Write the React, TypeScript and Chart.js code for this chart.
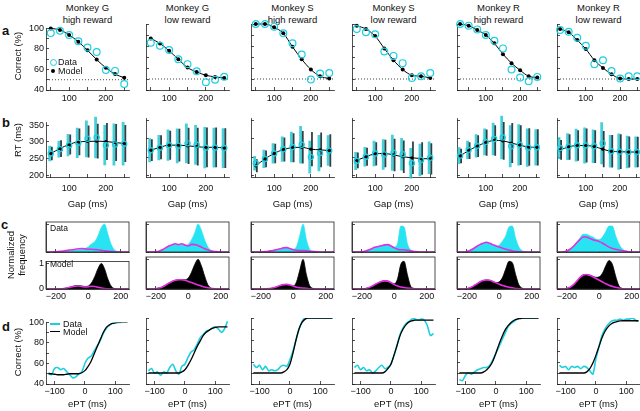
import React, { useEffect, useRef } from "react";
import { Chart, registerables } from "chart.js";

Chart.register(...registerables);

// ---------------- data ----------------
const MONKEYS = ["Monkey G", "Monkey G", "Monkey S", "Monkey S", "Monkey R", "Monkey R"];
const REWARDS = ["high reward", "low reward", "high reward", "low reward", "high reward", "low reward"];

const GAP_GS = [50, 75, 100, 125, 150, 175, 200, 225, 250];
const GAP_R = [25, 50, 75, 100, 125, 150, 175, 200, 225, 250];
const GAPS = [GAP_GS, GAP_GS, GAP_GS, GAP_GS, GAP_R, GAP_R];
const GAP_TICKS = [50, 100, 150, 200, 250];
const GAP_TICK_LABELS = [100, 200];
const ACC_TICKS = [40, 50, 60, 70, 80, 90, 100];
const ACC_TICK_LABELS = [40, 60, 80, 100];
const RT_TICKS = [200, 250, 300, 350];
const DIST_TICKS_X = [-200, 0, 200];
const DIST_TICKS_Y = [0, 1];
const EPT_TICKS = [-100, 0, 100];
const CHANCE = 50;

// a: percent correct vs gap
const ACC_DATA = [
  [95.4, 97.6, 93.6, 87.5, 81.4, 76.9, 59.5, 58.6, 45.8],
  [83, 80.2, 76.3, 68, 63.5, 57, 47, 49.3, 52],
  [100, 100, 97.6, 91.5, 82.4, 72.3, 49.5, 55, 55.5],
  [95.4, 92.4, 90.6, 75, 71, 64.4, 51, 52.5, 55.5],
  [100, 98.5, 95.1, 90, 84.8, 77.8, 58.6, 51.3, 48, 51.9],
  [94.5, 93, 87.5, 80.2, 63.5, 67.1, 57.3, 50.4, 52.5, 52.5],
];
const ACC_MODEL = [
  [100, 98.5, 93.6, 87, 78.7, 69.6, 61.6, 55.5, 51.9],
  [86.9, 82.3, 75.6, 68, 60.4, 56.4, 53.4, 51.9, 51],
  [100, 100, 97, 91.5, 79.3, 68, 58.6, 52.5, 50.4],
  [98.5, 95.4, 89, 77.8, 67.1, 58.6, 53.4, 52.5, 51],
  [100, 98.5, 94.5, 90, 82.4, 72.6, 64.4, 57.9, 52.5, 51.3],
  [95.4, 92.4, 85.4, 77.2, 67.1, 60.1, 54.3, 50.4, 50, 50],
];

// b: RT vs gap (mean and spread)
const RT_DATA = [
  [265, 278, 290, 297, 309, 313, 290, 292, 294],
  [269, 276, 283, 281, 288, 284, 276, 276, 275],
  [233, 245, 260, 272, 278, 284, 250, 261, 268],
  [239, 251, 260, 257, 262, 258, 233, 242, 248],
  [254, 270, 281, 292, 300, 304, 280, 284, 276, 277],
  [275, 279, 283, 282, 280, 288, 266, 265, 264, 264],
];
const RT_DATA_SD = [
  [23, 25, 33, 45, 55, 62, 60, 63, 65],
  [33, 35, 43, 48, 55, 55, 57, 55, 55],
  [20, 25, 28, 35, 42, 52, 45, 50, 42],
  [25, 27, 35, 42, 50, 45, 42, 45, 45],
  [23, 25, 32, 37, 45, 60, 58, 57, 53, 50],
  [30, 37, 45, 50, 46, 58, 45, 50, 45, 43],
];
const RT_MODEL = [
  [265, 280, 292, 300, 301, 302, 301, 298, 295],
  [269, 277, 283, 283, 281, 279, 277, 277, 275],
  [226, 245, 260, 271, 276, 277, 272, 270, 268],
  [241, 251, 259, 260, 256, 251, 248, 246, 245],
  [253, 268, 280, 290, 296, 295, 289, 283, 278, 277],
  [270, 278, 282, 282, 279, 272, 266, 265, 264, 264],
];
const RT_MODEL_SD = [
  [20, 25, 30, 40, 48, 52, 55, 55, 55],
  [30, 33, 40, 45, 50, 52, 55, 55, 55],
  [18, 23, 27, 33, 40, 45, 47, 48, 45],
  [22, 25, 32, 38, 45, 45, 45, 45, 43],
  [20, 23, 30, 36, 42, 52, 55, 55, 52, 50],
  [27, 35, 42, 47, 45, 50, 45, 48, 43, 42],
];

// c: ePT distributions
const DIST_EPT = [-260, -240, -220, -200, -180, -160, -140, -120, -100, -80, -60, -40, -20, 0, 20, 40, 60, 80, 100, 120, 140, 160, 180, 200, 220, 240, 260];
const DIST_DATA_CORRECT = [
  [0, 0, 0, 0, 0.01, 0.02, 0.03, 0.04, 0.05, 0.06, 0.08, 0.1, 0.13, 0.18, 0.3, 0.38, 0.6, 0.9, 1.02, 0.65, 0.28, 0.08, 0.02, 0, 0, 0, 0],
  [0, 0, 0, 0.01, 0.03, 0.08, 0.15, 0.22, 0.25, 0.28, 0.25, 0.27, 0.25, 0.28, 0.45, 0.7, 1.02, 0.8, 0.45, 0.18, 0.06, 0.02, 0, 0, 0, 0, 0],
  [0, 0, 0, 0, 0.01, 0.02, 0.04, 0.06, 0.08, 0.1, 0.12, 0.14, 0.13, 0.1, 0.2, 0.6, 1.02, 0.45, 0.1, 0.03, 0.01, 0, 0, 0, 0, 0, 0],
  [0, 0, 0, 0.01, 0.03, 0.07, 0.12, 0.16, 0.2, 0.22, 0.25, 0.26, 0.22, 0.18, 0.3, 0.95, 0.92, 0.3, 0.08, 0.02, 0, 0, 0, 0, 0, 0, 0],
  [0, 0, 0, 0.02, 0.06, 0.12, 0.2, 0.27, 0.32, 0.36, 0.32, 0.27, 0.22, 0.25, 0.4, 0.6, 0.92, 0.95, 0.5, 0.18, 0.05, 0.01, 0, 0, 0, 0, 0],
  [0, 0, 0.01, 0.04, 0.1, 0.2, 0.35, 0.5, 0.65, 0.65, 0.6, 0.55, 0.47, 0.45, 0.55, 0.75, 0.95, 0.95, 0.6, 0.3, 0.12, 0.04, 0.01, 0, 0, 0, 0],
];
const DIST_DATA_ERROR = [
  [0, 0, 0, 0.01, 0.02, 0.03, 0.05, 0.07, 0.08, 0.1, 0.12, 0.13, 0.12, 0.1, 0.1, 0.09, 0.08, 0.06, 0.04, 0.03, 0.02, 0.01, 0, 0, 0, 0, 0],
  [0, 0, 0, 0.01, 0.03, 0.08, 0.15, 0.22, 0.27, 0.3, 0.27, 0.3, 0.25, 0.22, 0.28, 0.27, 0.24, 0.18, 0.12, 0.08, 0.04, 0.02, 0.01, 0, 0, 0, 0],
  [0, 0, 0, 0, 0.01, 0.02, 0.04, 0.06, 0.09, 0.12, 0.15, 0.16, 0.12, 0.08, 0.06, 0.05, 0.05, 0.04, 0.03, 0.02, 0.01, 0, 0, 0, 0, 0, 0],
  [0, 0, 0, 0.01, 0.03, 0.07, 0.12, 0.17, 0.2, 0.23, 0.26, 0.27, 0.22, 0.15, 0.1, 0.08, 0.08, 0.06, 0.04, 0.02, 0.01, 0, 0, 0, 0, 0, 0],
  [0, 0, 0, 0.02, 0.06, 0.12, 0.2, 0.27, 0.32, 0.36, 0.32, 0.27, 0.22, 0.18, 0.14, 0.1, 0.07, 0.04, 0.02, 0.01, 0, 0, 0, 0, 0, 0, 0],
  [0, 0, 0.01, 0.04, 0.1, 0.2, 0.33, 0.45, 0.55, 0.55, 0.5, 0.45, 0.42, 0.38, 0.32, 0.25, 0.18, 0.13, 0.1, 0.07, 0.05, 0.03, 0.01, 0, 0, 0, 0],
];
const DIST_MODEL_CORRECT = [
  [0, 0, 0, 0, 0, 0.01, 0.03, 0.06, 0.1, 0.13, 0.14, 0.12, 0.1, 0.12, 0.25, 0.5, 0.82, 1.02, 0.8, 0.4, 0.12, 0.02, 0, 0, 0, 0, 0],
  [0, 0, 0, 0.01, 0.03, 0.07, 0.13, 0.2, 0.26, 0.3, 0.32, 0.32, 0.32, 0.38, 0.58, 0.85, 1.02, 0.8, 0.45, 0.15, 0.03, 0, 0, 0, 0, 0, 0],
  [0, 0, 0, 0, 0, 0.01, 0.02, 0.04, 0.08, 0.12, 0.15, 0.15, 0.12, 0.1, 0.25, 0.65, 1.02, 0.5, 0.12, 0.02, 0, 0, 0, 0, 0, 0, 0],
  [0, 0, 0, 0, 0.01, 0.04, 0.09, 0.15, 0.21, 0.26, 0.28, 0.27, 0.22, 0.18, 0.35, 0.85, 0.95, 0.5, 0.1, 0.02, 0, 0, 0, 0, 0, 0, 0],
  [0, 0, 0, 0.01, 0.04, 0.1, 0.17, 0.24, 0.29, 0.31, 0.3, 0.26, 0.22, 0.25, 0.4, 0.7, 0.95, 0.9, 0.5, 0.15, 0.03, 0, 0, 0, 0, 0, 0],
  [0, 0, 0, 0.02, 0.06, 0.14, 0.26, 0.39, 0.48, 0.5, 0.48, 0.44, 0.4, 0.42, 0.55, 0.8, 0.98, 0.85, 0.45, 0.12, 0.02, 0, 0, 0, 0, 0, 0],
];
const DIST_MODEL_ERROR = [
  [0, 0, 0, 0, 0, 0.01, 0.03, 0.06, 0.09, 0.11, 0.12, 0.1, 0.08, 0.09, 0.11, 0.1, 0.07, 0.04, 0.02, 0.01, 0, 0, 0, 0, 0, 0, 0],
  [0, 0, 0, 0.01, 0.03, 0.07, 0.13, 0.2, 0.26, 0.3, 0.32, 0.32, 0.3, 0.26, 0.22, 0.18, 0.14, 0.1, 0.07, 0.04, 0.02, 0.01, 0, 0, 0, 0, 0],
  [0, 0, 0, 0, 0, 0.01, 0.02, 0.04, 0.08, 0.12, 0.15, 0.16, 0.14, 0.1, 0.06, 0.04, 0.03, 0.02, 0.01, 0, 0, 0, 0, 0, 0, 0, 0],
  [0, 0, 0, 0, 0.01, 0.04, 0.09, 0.15, 0.21, 0.26, 0.28, 0.27, 0.22, 0.15, 0.1, 0.07, 0.05, 0.03, 0.02, 0.01, 0, 0, 0, 0, 0, 0, 0],
  [0, 0, 0, 0.01, 0.04, 0.1, 0.17, 0.24, 0.29, 0.31, 0.3, 0.26, 0.21, 0.16, 0.12, 0.09, 0.06, 0.04, 0.02, 0.01, 0, 0, 0, 0, 0, 0, 0],
  [0, 0, 0, 0.02, 0.06, 0.14, 0.26, 0.39, 0.48, 0.5, 0.47, 0.42, 0.36, 0.3, 0.24, 0.18, 0.13, 0.09, 0.06, 0.03, 0.01, 0, 0, 0, 0, 0, 0],
];

// d: percent correct vs ePT
const CURVE_EPT = [-120, -110, -100, -90, -80, -70, -60, -50, -40, -30, -20, -10, 0, 10, 20, 30, 40, 50, 60, 70, 80, 90, 100, 110, 120, 130, 140];
const CURVE_DATA = [
  [51, 49, 55, 56, 54, 55, 52, 49, 46, 47, 50, 52, 60, 65, 67, 72, 77, 82, 89, 94, 97, 99, 100, 100, 100, null, null],
  [52, 54, 50, 51, 48, 51, 50, 55, 58, 52, 49, 56, 58, 64, 69, 71, 76, 82, 85, 88, 89, 91, 92, 90, 87, 90, 97],
  [58, 55, 57, 53, 56, 52, 53, 52, 53, 56, 57, 56, 62, 70, 80, 90, 97, 100, 100, 100, 100, 100, 100, 100, 100, 100, 100],
  [55, 57, 53, 55, 52, 53, 50, 52, 55, 57, 54, 55, 58, 66, 75, 85, 91, 95, 97, 99, 99, 98, 99, 98, 93, 84, 86],
  [44, 43, 48, 50, 49, 51, 53, 54, 55, 55, 57, 62, 68, 74, 80, 86, 92, 95, 97, 99, 100, 100, 100, 100, 100, 100, 100],
  [57, 55, 56, 53, 56, 55, 56, 54, 56, 55, 52, 49, 63, 74, 84, 90, 94, 97, 98, 98, 99, 98, 99, 99, 100, 98, 97],
];
const CURVE_MODEL = [
  [50, 50, 49.5, 49, 49, 49, 49.5, 50, 50, 50, 50, 51, 53, 57, 62, 69, 76, 83, 90, 95, 97.5, 99, 99.5, 100, 100, 100, 100],
  [50, 50, 50, 50, 50, 50, 50, 50, 50, 50, 50, 51, 53, 57, 62, 68, 74, 79, 84, 87, 89, 90.5, 91.5, 92, 92, 92, 92],
  [50, 50, 50, 50, 50, 50, 50, 50, 50, 50, 51, 53, 58, 68, 80, 90, 96, 99, 100, 100, 100, 100, 100, 100, 100, 100, 100],
  [50, 50, 50, 50, 50, 50, 50, 50, 50, 50, 51, 54, 58, 66, 75, 84, 90, 94, 96.5, 97.5, 98, 98, 98, 98, 98, 98, 98],
  [50, 50, 50, 50, 50, 50, 50, 50, 51, 53, 56, 61, 68, 76, 83, 89, 93, 96, 98, 99, 99.5, 100, 100, 100, 100, 100, 100],
  [50, 50, 50, 50, 50, 50, 50, 50, 50, 51, 54, 59, 66, 74, 82, 88, 92, 94.5, 96, 96.8, 97.3, 97.5, 97.5, 97.5, 97.5, 97.5, 97.5],
];

// ---------------- style / layout ----------------
const FONT = "'Liberation Sans', Arial, Helvetica, sans-serif";
const CYAN = "#1ccfe0";
const CYAN_FILL = "#28e3f2";
const CYAN_BAR = "rgba(40,200,212,0.85)";
const DARK_BAR = "rgba(12,32,36,0.85)";
const MAGENTA = "#e52ee0";
const AX = "#222";

const COL_LEFT = [46, 146, 251, 352, 457, 557];
const PW = 83;
const ML = 32, MR = 6, MT = 6, MB = 22;
const TL = -3;

const ROW_A = { top: 24, h: 65.7 };
const ROW_B = { top: 117.8, h: 59.3 };
const ROW_C1 = { top: 221.7, h: 30 };
const ROW_C2 = { top: 257.3, h: 31.7 };
const ROW_D = { top: 317.7, h: 66.3 };

function fmt(v: number) {
  return v < 0 ? "\u2212" + Math.abs(v) : String(v);
}

function lin(axis: "x" | "y", min: number, max: number, ticks: number[], labels: number[] | null, pad = 5) {
  return {
    type: "linear",
    position: axis === "x" ? "bottom" : "left",
    min,
    max,
    afterBuildTicks: (s: any) => {
      s.ticks = ticks.map((v) => ({ value: v }));
    },
    afterFit: (s: any) => {
      if (axis === "x") s.height = MB;
      else s.width = ML;
    },
    ticks: {
      display: !!labels,
      autoSkip: false,
      maxRotation: 0,
      padding: pad,
      color: "#111",
      font: { family: FONT, size: 9 },
      callback: (v: any) => (labels && labels.includes(Number(v)) ? fmt(Number(v)) : ""),
    },
    grid: { display: true, drawOnChartArea: false, drawTicks: true, tickLength: TL, color: AX, lineWidth: 0.8 },
    border: { display: true, color: AX, width: 0.8 },
  };
}

function opts(xs: any, ys: any) {
  return {
    responsive: false,
    maintainAspectRatio: false,
    animation: false,
    events: [],
    layout: { padding: { left: 0, right: MR, top: MT, bottom: 0 } },
    plugins: { legend: { display: false }, tooltip: { enabled: false }, title: { display: false } },
    scales: { x: xs, y: ys },
  };
}

const boxPlugin = {
  id: "boxFrame",
  afterDraw(chart: any) {
    const { ctx, chartArea: a } = chart;
    ctx.save();
    ctx.strokeStyle = AX;
    ctx.lineWidth = 0.8;
    ctx.strokeRect(a.left, a.top, a.right - a.left, a.bottom - a.top);
    ctx.restore();
  },
};

function gapRange(i: number): [number, number] {
  return i >= 4 ? [16, 258] : [37, 263];
}

function pts(xs: number[], ys: (number | null)[]) {
  return xs.map((x, k) => ({ x, y: ys[k] }));
}

function errorBars(xs: number[], m: number[], sd: number[], off: number) {
  const out: any[] = [];
  xs.forEach((g, k) => {
    out.push({ x: g + off, y: m[k] - sd[k] }, { x: g + off, y: m[k] + sd[k] }, { x: g + off, y: null });
  });
  return out;
}

function configA(i: number) {
  const [x0, x1] = gapRange(i);
  const g = GAPS[i];
  return {
    type: "line",
    data: {
      datasets: [
        { data: pts(g, ACC_DATA[i]), showLine: false, pointRadius: 3.4, pointBorderWidth: 1.2, pointBorderColor: CYAN, pointBackgroundColor: "rgba(0,0,0,0)", clip: false },
        { data: pts(g, ACC_MODEL[i]), borderColor: "#000", borderWidth: 1, pointRadius: 2, pointBorderWidth: 0, pointBackgroundColor: "#000", cubicInterpolationMode: "monotone", clip: false },
        { data: [{ x: x0, y: CHANCE }, { x: x1, y: CHANCE }], borderColor: "#333", borderWidth: 0.9, borderDash: [1, 2], pointRadius: 0 },
      ],
    },
    options: opts(lin("x", x0, x1, GAP_TICKS, GAP_TICK_LABELS, 6), lin("y", 40, 100, ACC_TICKS, i === 0 ? ACC_TICK_LABELS : null)),
  };
}

function configB(i: number) {
  const [x0, x1] = gapRange(i);
  const g = GAPS[i];
  return {
    type: "line",
    data: {
      datasets: [
        { data: pts(g, RT_DATA[i]), showLine: false, pointRadius: 2.6, pointBorderWidth: 1.2, pointBorderColor: CYAN, pointBackgroundColor: "rgba(0,0,0,0)", clip: false },
        { data: pts(g, RT_MODEL[i]), borderColor: "#000", borderWidth: 1, pointRadius: 1.6, pointBorderWidth: 0, pointBackgroundColor: "#000", cubicInterpolationMode: "monotone", clip: false },
        { data: errorBars(g, RT_MODEL[i], RT_MODEL_SD[i], 3), borderColor: DARK_BAR, borderWidth: 1.8, pointRadius: 0, borderCapStyle: "butt", spanGaps: false, clip: false },
        { data: errorBars(g, RT_DATA[i], RT_DATA_SD[i], -3), borderColor: CYAN_BAR, borderWidth: 2.8, pointRadius: 0, borderCapStyle: "butt", spanGaps: false, clip: false },
      ],
    },
    options: opts(lin("x", x0, x1, GAP_TICKS, GAP_TICK_LABELS, 9), lin("y", 195, 358, RT_TICKS, i === 0 ? RT_TICKS : null)),
  };
}

function configC(i: number, model: boolean) {
  const correct = model ? DIST_MODEL_CORRECT[i] : DIST_DATA_CORRECT[i];
  const error = model ? DIST_MODEL_ERROR[i] : DIST_DATA_ERROR[i];
  const fillColor = model ? "#000" : CYAN_FILL;
  return {
    type: "line",
    data: {
      datasets: [
        { data: pts(DIST_EPT, error), borderColor: MAGENTA, borderWidth: 1.6, pointRadius: 0, cubicInterpolationMode: "monotone", fill: false },
        { data: pts(DIST_EPT, correct), borderColor: fillColor, backgroundColor: fillColor, borderWidth: 0.8, pointRadius: 0, cubicInterpolationMode: "monotone", fill: "origin" },
      ],
    },
    options: opts(
      lin("x", -260, 250, DIST_TICKS_X, model ? DIST_TICKS_X : null),
      lin("y", 0, 1.1, DIST_TICKS_Y, model && i === 0 ? DIST_TICKS_Y : null)
    ),
    plugins: [boxPlugin],
  };
}

function configD(i: number) {
  return {
    type: "line",
    data: {
      datasets: [
        { data: pts(CURVE_EPT, CURVE_MODEL[i]), borderColor: "#000", borderWidth: 1.3, pointRadius: 0, cubicInterpolationMode: "monotone" },
        { data: pts(CURVE_EPT, CURVE_DATA[i]), borderColor: CYAN, borderWidth: 1.6, pointRadius: 0, tension: 0.3, spanGaps: false },
      ],
    },
    options: opts(lin("x", -128, 145, EPT_TICKS, EPT_TICKS), lin("y", 40, 100, ACC_TICKS, i === 0 ? ACC_TICK_LABELS : null)),
  };
}

function ChartBox({ x, y, h, config }: { x: number; y: number; h: number; config: any }) {
  const ref = useRef<HTMLCanvasElement>(null);
  const W = PW + ML + MR;
  const H = h + MT + MB;
  useEffect(() => {
    const c = new Chart(ref.current as HTMLCanvasElement, config);
    return () => c.destroy();
  }, []);
  return (
    <canvas
      ref={ref}
      width={Math.round(W)}
      height={Math.round(H)}
      style={{ position: "absolute", left: x - ML, top: y - MT, width: Math.round(W), height: Math.round(H) }}
    />
  );
}

const txt: React.CSSProperties = { position: "absolute", fontFamily: FONT, color: "#111", whiteSpace: "nowrap" };

function VTitle({ cx, cy, children }: { cx: number; cy: number; children: React.ReactNode }) {
  return (
    <div style={{ ...txt, left: cx, top: cy, fontSize: 9.5, lineHeight: "11px", textAlign: "center", transform: "translate(-50%,-50%) rotate(-90deg)" }}>
      {children}
    </div>
  );
}

export default function App() {
  const cols = [0, 1, 2, 3, 4, 5];
  return (
    <div style={{ position: "fixed", left: 0, top: 0, width: 640, height: 411, background: "#fff", overflow: "hidden" }}>
      {cols.map((i) => (
        <React.Fragment key={i}>
          <div style={{ ...txt, left: COL_LEFT[i] + PW / 2, top: 2, fontSize: 9.5, lineHeight: "12px", textAlign: "center", transform: "translateX(-50%)" }}>
            {MONKEYS[i]}
            <br />
            {REWARDS[i]}
          </div>
          <ChartBox x={COL_LEFT[i]} y={ROW_A.top} h={ROW_A.h} config={configA(i)} />
          <ChartBox x={COL_LEFT[i]} y={ROW_B.top} h={ROW_B.h} config={configB(i)} />
          <ChartBox x={COL_LEFT[i]} y={ROW_C1.top} h={ROW_C1.h} config={configC(i, false)} />
          <ChartBox x={COL_LEFT[i]} y={ROW_C2.top} h={ROW_C2.h} config={configC(i, true)} />
          <ChartBox x={COL_LEFT[i]} y={ROW_D.top} h={ROW_D.h} config={configD(i)} />
          <div style={{ ...txt, left: COL_LEFT[i] + PW / 2, top: 198, fontSize: 9.5, lineHeight: "12px", transform: "translateX(-50%)" }}>Gap (ms)</div>
          <div style={{ ...txt, left: COL_LEFT[i] + PW / 2, top: 398, fontSize: 9.5, lineHeight: "12px", transform: "translateX(-50%)" }}>ePT (ms)</div>
        </React.Fragment>
      ))}

      {/* row letters */}
      <div style={{ ...txt, left: 2, top: 24, fontSize: 13, fontWeight: "bold", lineHeight: "14px" }}>a</div>
      <div style={{ ...txt, left: 2, top: 116, fontSize: 13, fontWeight: "bold", lineHeight: "14px" }}>b</div>
      <div style={{ ...txt, left: 1, top: 218, fontSize: 13, fontWeight: "bold", lineHeight: "14px" }}>c</div>
      <div style={{ ...txt, left: 2, top: 320, fontSize: 13, fontWeight: "bold", lineHeight: "14px" }}>d</div>

      {/* y titles */}
      <VTitle cx={17} cy={56}>Correct (%)</VTitle>
      <VTitle cx={17} cy={140}>RT (ms)</VTitle>
      <VTitle cx={16} cy={255}>
        Normalized
        <br />
        frequency
      </VTitle>
      <VTitle cx={17} cy={352}>Correct (%)</VTitle>

      {/* legend a */}
      <div style={{ position: "absolute", left: 50, top: 59, width: 5, height: 5, border: `1.2px solid ${CYAN}`, borderRadius: "50%" }} />
      <div style={{ ...txt, left: 58, top: 56, fontSize: 9, lineHeight: "12px" }}>Data</div>
      <div style={{ position: "absolute", left: 51, top: 69, width: 4, height: 4, background: "#000", borderRadius: "50%" }} />
      <div style={{ ...txt, left: 58, top: 65, fontSize: 9, lineHeight: "12px" }}>Model</div>

      {/* legend d */}
      <div style={{ position: "absolute", left: 50, top: 322.5, width: 10, height: 2, background: CYAN }} />
      <div style={{ ...txt, left: 63, top: 317.5, fontSize: 9, lineHeight: "12px" }}>Data</div>
      <div style={{ position: "absolute", left: 50, top: 330.5, width: 10, height: 1.4, background: "#000" }} />
      <div style={{ ...txt, left: 63, top: 325.5, fontSize: 9, lineHeight: "12px" }}>Model</div>

      {/* c sub-panel labels */}
      <div style={{ ...txt, left: 50, top: 223, fontSize: 8.5, lineHeight: "10px" }}>Data</div>
      <div style={{ ...txt, left: 50, top: 259, fontSize: 8.5, lineHeight: "10px" }}>Model</div>
    </div>
  );
}
